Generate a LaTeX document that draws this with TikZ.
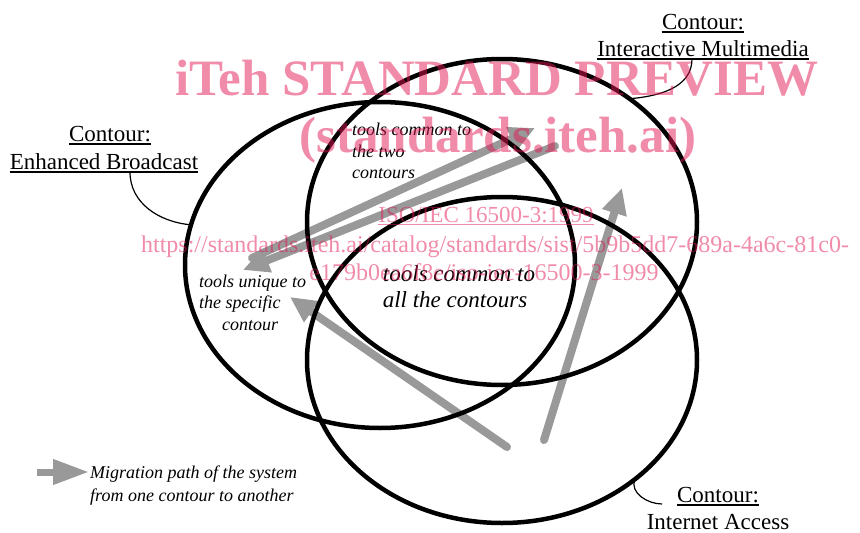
\documentclass[tikz,border=0pt]{standalone}
\usepackage{fontspec}
\setmainfont{Liberation Serif}
\usetikzlibrary{shapes.geometric,arrows.meta}
\definecolor{pathgray}{RGB}{153,153,153}
\definecolor{markpink}{RGB}{225,25,85}

\begin{document}
\begin{tikzpicture}[x=1pt,y=-1pt,
  contour/.style={draw, ellipse, line width=4.5pt, minimum width=390pt,
    minimum height=326pt, inner sep=0pt, outer sep=0pt},
  lbl/.style={font=\fontsize{23}{26}\selectfont, inner sep=0pt, anchor=base},
  note/.style={font=\fontsize{18}{21}\selectfont\itshape, inner sep=0pt,
    anchor=base west},
  bignote/.style={font=\fontsize{23}{25}\selectfont\itshape, inner sep=0pt,
    anchor=base},
  uline/.style={line width=1.3pt},
  leader/.style={line width=1.2pt},
  migr/.style={draw=pathgray, line width=8pt, line cap=round,
    -{Triangle[length=26pt,width=24pt]}},
  wmbold/.style={font=\fontsize{51}{55}\selectfont\bfseries, text=markpink,
    text opacity=0.5, inner sep=0pt, anchor=base},
  wmtext/.style={font=\fontsize{23}{26}\selectfont, text=markpink,
    text opacity=0.5, inner sep=0pt, anchor=base},
]
\useasboundingbox (0,0) rectangle (860,533);

% migration paths between the contours
\coordinate (a1s) at (252,258); \coordinate (a1e) at (535,128);
\coordinate (a2s) at (555,146); \coordinate (a2e) at (243,270);
\coordinate (a3s) at (507,447); \coordinate (a3e) at (290,297);
\coordinate (a4s) at (544,440); \coordinate (a4e) at (622,188);
\draw[migr] (a1s) -- (a1e);
\draw[migr] (a2s) -- (a2e);
\draw[migr] (a3s) -- (a3e);
\draw[migr] (a4s) -- (a4e);

% the three contours
\node[contour] (eb) at (380,265) {};
\node[contour] (im) at (502,222) {};
\node[contour] (ia) at (502,360) {};

% contour labels (underlines sit just below the baseline)
\node[lbl] (ebt) at (110,141) {Contour:};
\node[lbl] (ebn) at (104,169) {Enhanced Broadcast};
\draw[uline] ([yshift=-3pt]ebt.base west) -- ([yshift=-3pt]ebt.base east);
\draw[uline] ([yshift=-3pt]ebn.base west) -- ([yshift=-3pt]ebn.base east);
\coordinate (ebk) at (130,172);
\draw[leader] (ebk) to[out=-90,in=175] (eb.168);

\node[lbl] (imt) at (703,29) {Contour:};
\node[lbl] (imn) at (703,56) {Interactive Multimedia};
\draw[uline] ([yshift=-3pt]imt.base west) -- ([yshift=-3pt]imt.base east);
\draw[uline] ([yshift=-3pt]imn.base west) -- ([yshift=-3pt]imn.base east);
\coordinate (imk) at (692,59);
\draw[leader] (imk) to[out=-90,in=5] (im.44);

\node[lbl] (iat) at (718,502) {Contour:};
\node[lbl] (ian) at (718,529) {Internet Access};
\draw[uline] ([yshift=-3pt]iat.base west) -- ([yshift=-3pt]iat.base east);
\coordinate (iak) at (662,504);
\draw[leader] (ia.-42) to[out=-110,in=180] (iak);

% region notes
\node[note] (n2a) at (352,135) {tools common to};
\node[note] (n2b) at (352,157) {the two};
\node[note] (n2c) at (352,178) {contours};

\node[note] (n1a) at (199,287) {tools unique to};
\node[note] (n1b) at (199,308) {the specific};
\node[note] (n1c) at (222,330) {contour};

\node[bignote] (n3a) at (459,281) {tools common to};
\node[bignote] (n3b) at (455,307) {all the contours};

% legend
\coordinate (lgs) at (37,472); \coordinate (lge) at (89,472);
\draw[draw=pathgray, line width=7pt, -{Triangle[length=36pt,width=24pt]}] (lgs) -- (lge);
\node[note] (lg1) at (90,478) {Migration path of the system};
\node[note] (lg2) at (90,501) {from one contour to another};

% preview stamp
\node[wmbold] (wm1) at (497,95) {iTeh STANDARD PREVIEW};
\node[wmbold] (wm2) at (498,152) {(standards.iteh.ai)};
\node[wmtext] (wm3) at (486,222) {ISO/IEC 16500-3:1999};
\draw[draw=markpink, draw opacity=0.5, line width=1pt]
  ([yshift=-2pt]wm3.base west) -- ([yshift=-2pt]wm3.base east);
\node[wmtext, font=\fontsize{24}{27}\selectfont] (wm4) at (495,252)
  {https://standards.iteh.ai/catalog/standards/sist/5b9b5dd7-689a-4a6c-81c0-};
\node[wmtext, font=\fontsize{24}{27}\selectfont] (wm5) at (484,280)
  {e179b0ea6f8e/iso-iec-16500-3-1999};
\end{tikzpicture}
\end{document}
